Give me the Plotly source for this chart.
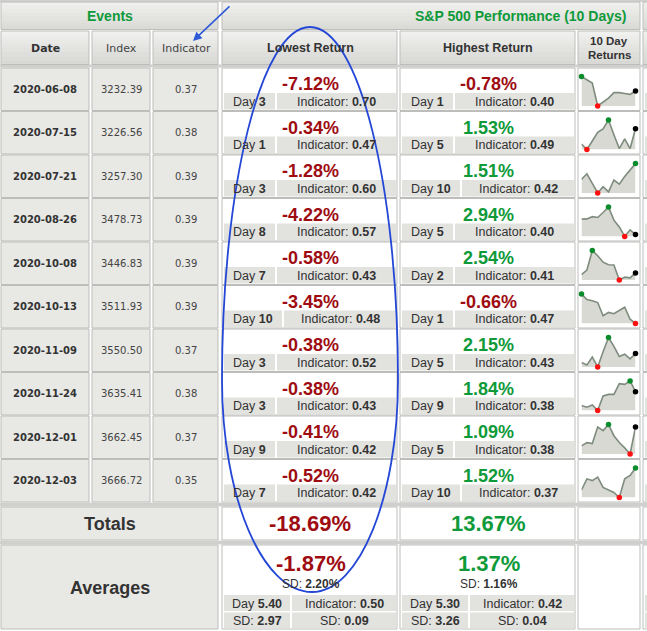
import plotly.graph_objects as go

W, H = 647, 631

# ---------------- data ----------------
dates = ["2020-06-08", "2020-07-15", "2020-07-21", "2020-08-26", "2020-10-08",
         "2020-10-13", "2020-11-09", "2020-11-24", "2020-12-01", "2020-12-03"]
index_vals = [3232.39, 3226.56, 3257.30, 3478.73, 3446.83, 3511.93, 3550.50, 3635.41, 3662.45, 3666.72]
indicator_vals = [0.37, 0.38, 0.39, 0.39, 0.39, 0.39, 0.37, 0.38, 0.37, 0.35]
low_ret = [-7.12, -0.34, -1.28, -4.22, -0.58, -3.45, -0.38, -0.38, -0.41, -0.52]
low_day = [3, 1, 3, 8, 7, 10, 3, 3, 9, 7]
low_ind = [0.70, 0.47, 0.60, 0.57, 0.43, 0.48, 0.52, 0.43, 0.42, 0.42]
high_ret = [-0.78, 1.53, 1.51, 2.94, 2.54, -0.66, 2.15, 1.84, 1.09, 1.52]
high_day = [1, 5, 10, 5, 2, 1, 5, 9, 5, 10]
high_ind = [0.40, 0.49, 0.42, 0.40, 0.41, 0.47, 0.43, 0.38, 0.38, 0.37]

# 10-day return paths (day 0 .. day 10), %
spark_days = list(range(11))
spark_1 = [0, -0.78, -1.6, -7.12, -6.1, -5.2, -3.9, -3.9, -4.1, -4.3, -3.5]
spark_2 = [0, -0.34, 0.2, 0.75, 0.97, 1.53, 0.6, -0.28, 0.33, -0.28, 0.98]
spark_3 = [0, 0.54, -0.37, -1.28, -0.69, -1.18, -0.05, -0.44, 0.28, 0.93, 1.51]
spark_4 = [0, 0.05, 0.6, 0.4, 1.6, 2.94, -0.25, -1.9, -4.22, -2.6, -3.75]
spark_5 = [0, 0.47, 2.54, 1.98, 1.3, 1.04, 1.0, -0.58, -0.28, -0.35, 0.17]
spark_6 = [0, -0.66, -0.8, -1.0, -2.55, -2.15, -2.3, -1.9, -1.55, -2.95, -3.45]
spark_7 = [0, -0.2, 0.47, -0.38, 0.93, 2.15, 1.39, 0.53, 0.72, 0.32, 0.78]
spark_8 = [0, -0.13, 0.03, -0.38, 0.71, 0.83, 0.83, 1.64, 1.59, 1.84, 1.04]
spark_9 = [0, 0.17, 0.12, 0.96, 0.78, 1.09, 0.52, 0.17, -0.1, -0.41, 0.96]
spark_10 = [0, 0.77, 0.65, 0.89, 0.18, 0.0, -0.17, -0.52, 0.77, 1.0, 1.52]
sparks = [spark_1, spark_2, spark_3, spark_4, spark_5, spark_6, spark_7, spark_8, spark_9, spark_10]

total_low, total_high = -18.69, 13.67
avg_low, avg_low_sd = -1.87, 2.20
avg_low_day, avg_low_ind, avg_low_day_sd, avg_low_ind_sd = 5.40, 0.50, 2.97, 0.09
avg_high, avg_high_sd = 1.37, 1.16
avg_high_day, avg_high_ind, avg_high_day_sd, avg_high_ind_sd = 5.30, 0.42, 3.26, 0.04

# ---------------- style ----------------
RED = "#9e0c12"
GREEN = "#0f9a3a"
DARK = "#333333"
CELL = "#e8e8e5"
SUB = "#e2e2df"
BORDER = "#bdbdbb"
ARIAL = "Liberation Sans, Arial, sans-serif"
TAHOMA = "DejaVu Sans, Verdana, sans-serif"

shapes = []
ann = []


def rect(x0, y0, x1, y1, fill, line=None, lw=1):
    shapes.append(dict(type="rect", xref="x", yref="y", x0=x0, y0=y0, x1=x1, y1=y1,
                       fillcolor=fill, layer="below",
                       line=dict(color=line if line else fill, width=lw if line else 0)))


def grad(x0, y0, x1, y1, c0, c1, n=8, line=BORDER):
    def hx(c):
        return [int(c[i:i + 2], 16) for i in (1, 3, 5)]
    a, b = hx(c0), hx(c1)
    h = (y1 - y0) / n
    for k in range(n):
        t = k / (n - 1)
        col = "#%02x%02x%02x" % tuple(int(a[j] + (b[j] - a[j]) * t) for j in range(3))
        rect(x0, y0 + k * h, x1, y0 + (k + 1) * h + 0.5, col)
    rect(x0, y0, x1, y1, "rgba(0,0,0,0)", line, 1)


def text(x, y, s, size, color=DARK, family=ARIAL, bold=False):
    ann.append(dict(x=x, y=y, xref="x", yref="y", text=("<b>%s</b>" % s) if bold else s,
                    showarrow=False, xanchor="center", yanchor="middle",
                    font=dict(size=size, color=color, family=family)))


def pct(v):
    return "%.2f%%" % v


# columns
C_DATE = (1, 89)
C_INDEX = (92, 150)
C_IND = (153, 218)
C_LOW = (222, 397)
C_HIGH = (400, 575)
C_SPARK = (578, 640)
C_EXTRA = (643, 700)

# background bands
rect(0, 0, W, H, "#ffffff")
rect(0, 0, W, 2, "#d0d0ce")
rect(0, 64.5, W, 67.5, "#cfcfcd")

# header rows
grad(C_DATE[0], 2, C_IND[1], 29.5, "#efefed", "#dadad7")
grad(C_LOW[0], 2, C_SPARK[1], 29.5, "#efefed", "#dadad7")
grad(C_EXTRA[0], 2, C_EXTRA[1], 29.5, "#efefed", "#dadad7")
text(110, 16, "Events", 14, GREEN, bold=True)
text(520, 16, "S&P 500 Performance (10 Days)", 14, GREEN, bold=True)

for c in (C_DATE, C_INDEX, C_IND, C_LOW, C_HIGH, C_SPARK, C_EXTRA):
    grad(c[0], 31, c[1], 64.5, "#f0f0ee", "#d8d8d5")
text(45, 48, "Date", 11, DARK, TAHOMA, bold=True)
text(121, 48, "Index", 11, "#444444", TAHOMA)
text(186, 48, "Indicator", 11, "#444444", TAHOMA)
text(310, 48, "Lowest Return", 12.5, DARK, bold=True)
text(488, 48, "Highest Return", 12.5, DARK, bold=True)
text(609, 41, "10 Day", 11.5, DARK, bold=True)
text(609, 55, "Returns", 11.5, DARK, bold=True)

RH = 43.5
TOP0 = 68


def ret_cell(c, top, val, day, ind, positive_green):
    rect(c[0], top, c[1], top + RH - 1, "#ffffff", BORDER, 1)
    col = GREEN if (positive_green and val > 0) else RED
    text((c[0] + c[1]) / 2 + 1, top + 16, pct(val), 18, col, bold=True)
    dw = 58 if day >= 10 else 51
    by0, by1 = top + 25, top + 41.5
    rect(c[0] + 2, by0, c[0] + 2 + dw, by1, SUB)
    rect(c[0] + 4 + dw, by0, c[1] - 1, by1, SUB)
    text(c[0] + 2 + dw / 2, (by0 + by1) / 2 + 0.5, "Day <b>%d</b>" % day, 12.5, DARK)
    text((c[0] + 4 + dw + c[1] - 1) / 2, (by0 + by1) / 2 + 0.5,
         "Indicator: <b>%.2f</b>" % ind, 12.5, DARK)


data_traces = []
axes = {}
for i in range(len(dates)):
    top = TOP0 + RH * i
    for c in (C_DATE, C_INDEX, C_IND):
        rect(c[0], top, c[1], top + RH - 1, CELL, BORDER, 1)
    cy = top + RH / 2 - 0.5
    text(45, cy, dates[i], 10, DARK, TAHOMA, bold=True)
    text(121, cy, "%.2f" % index_vals[i], 10, "#444444", TAHOMA)
    text(186, cy, "%.2f" % indicator_vals[i], 10, "#444444", TAHOMA)
    ret_cell(C_LOW, top, low_ret[i], low_day[i], low_ind[i], False)
    ret_cell(C_HIGH, top, high_ret[i], high_day[i], high_ind[i], True)
    rect(C_SPARK[0], top, C_SPARK[1], top + RH - 1, "#ffffff", BORDER, 1)
    rect(C_EXTRA[0], top, C_EXTRA[1], top + RH - 1, "#ffffff", BORDER, 1)
    rect(C_EXTRA[0] + 2, top + 25, C_EXTRA[1], top + 41.5, SUB)

    # sparkline
    k = i + 2
    vals = sparks[i]
    lo, hi = min(vals), max(vals)
    xa, ya = "x%d" % k, "y%d" % k
    data_traces.append(go.Scatter(x=spark_days, y=[lo] * len(spark_days), xaxis=xa, yaxis=ya,
                                  mode="lines", line=dict(width=0, color="rgba(0,0,0,0)"),
                                  hoverinfo="skip", showlegend=False))
    data_traces.append(go.Scatter(x=spark_days, y=vals, xaxis=xa, yaxis=ya, mode="lines",
                                  fill="tonexty", fillcolor="#d9d9d3",
                                  line=dict(color="#7e8c7e", width=1.6),
                                  showlegend=False, cliponaxis=False))
    imax, imin = vals.index(hi), vals.index(lo)
    mx = [spark_days[imax], spark_days[imin]]
    my = [hi, lo]
    mc = ["#0b8c2c", "#ff1010"]
    if len(vals) - 1 not in (imax, imin):
        mx.append(spark_days[-1])
        my.append(vals[-1])
        mc.append("#000000")
    data_traces.append(go.Scatter(x=mx, y=my, xaxis=xa, yaxis=ya, mode="markers",
                                  marker=dict(size=5.5, color=mc), showlegend=False,
                                  cliponaxis=False))
    yt, yb = top + 8.5, top + 38
    axes["xaxis%d" % k] = dict(domain=[581.5 / W, 635.5 / W], range=[0, 10], visible=False,
                               fixedrange=True, anchor=ya)
    axes["yaxis%d" % k] = dict(domain=[1 - yb / H, 1 - yt / H], range=[lo, hi], visible=False,
                               fixedrange=True, anchor=xa)

# totals / averages
end = TOP0 + RH * len(dates)
rect(0, end - 0.5, W, end + 3.5, "#cfcfcd")
t0, t1 = end + 4, end + 37
rect(C_DATE[0], t0, C_IND[1], t1, CELL, BORDER, 1)
for c in (C_LOW, C_HIGH, C_SPARK, C_EXTRA):
    rect(c[0], t0, c[1], t1, "#ffffff", BORDER, 1)
text(110, (t0 + t1) / 2, "Totals", 18, DARK, bold=True)
text(310, (t0 + t1) / 2, pct(total_low), 22, RED, bold=True)
text(488, (t0 + t1) / 2, pct(total_high), 22, GREEN, bold=True)

rect(0, t1 + 0.5, W, t1 + 4.5, "#cfcfcd")
a0, a1 = t1 + 5, 629
rect(C_DATE[0], a0, C_IND[1], a1, CELL, BORDER, 1)
for c in (C_LOW, C_HIGH, C_SPARK, C_EXTRA):
    rect(c[0], a0, c[1], a1, "#ffffff", BORDER, 1)
text(110, (a0 + a1) / 2 + 1, "Averages", 18, DARK, bold=True)


def avg_cell(c, val, sd, day, ind, day_sd, ind_sd, col):
    text((c[0] + c[1]) / 2 + 1, a0 + 18, pct(val), 22, col, bold=True)
    text((c[0] + c[1]) / 2 + 1, a0 + 39, "SD: <b>%.2f%%</b>" % sd, 12, DARK)
    dw = 66
    r1a, r1b = a0 + 50, a0 + 66
    r2a, r2b = a0 + 67.5, a1 - 1
    for (ya, yb, l, r) in ((r1a, r1b, "Day <b>%.2f</b>" % day, "Indicator: <b>%.2f</b>" % ind),
                           (r2a, r2b, "SD: <b>%.2f</b>" % day_sd, "SD: <b>%.2f</b>" % ind_sd)):
        rect(c[0] + 2, ya, c[0] + 2 + dw, yb, SUB)
        rect(c[0] + 4 + dw, ya, c[1] - 1, yb, SUB)
        text(c[0] + 2 + dw / 2, (ya + yb) / 2 + 0.5, l, 12.5, DARK)
        text((c[0] + 4 + dw + c[1] - 1) / 2, (ya + yb) / 2 + 0.5, r, 12.5, DARK)


avg_cell(C_LOW, avg_low, avg_low_sd, avg_low_day, avg_low_ind, avg_low_day_sd, avg_low_ind_sd, RED)
avg_cell(C_HIGH, avg_high, avg_high_sd, avg_high_day, avg_high_ind, avg_high_day_sd, avg_high_ind_sd, GREEN)
rect(C_EXTRA[0] + 2, a0 + 50, C_EXTRA[1], a0 + 66, SUB)
rect(C_EXTRA[0] + 2, a0 + 67.5, C_EXTRA[1], a1 - 1, SUB)

# hand-drawn blue annotation marks
k = 0.5523
cx_t, cy_t = 310, 27
cx_b, cy_b = 312, 592
lx, rx, my = 222, 398, 380
path = ("M %s,%s C %s,%s %s,%s %s,%s C %s,%s %s,%s %s,%s C %s,%s %s,%s %s,%s C %s,%s %s,%s %s,%s Z" % (
    cx_t, cy_t, cx_t + k * (rx - cx_t), cy_t, rx, my - k * (my - cy_t), rx, my,
    rx, my + k * (cy_b - my), cx_b + k * (rx - cx_b), cy_b, cx_b, cy_b,
    cx_b - k * (cx_b - lx), cy_b, lx, my + k * (cy_b - my), lx, my,
    lx, my - k * (my - cy_t), cx_t - k * (cx_t - lx), cy_t, cx_t, cy_t))
blue_shapes = [dict(type="path", xref="x", yref="y", path=path, layer="above",
                    line=dict(color="#2447d6", width=1.8), fillcolor="rgba(0,0,0,0)")]
ann.append(dict(x=193, y=41, ax=231, ay=5, xref="x", yref="y", axref="x", ayref="y",
                text="", showarrow=True, arrowhead=2, arrowsize=1.1, arrowwidth=1.6,
                arrowcolor="#2e5ad8"))

fig = go.Figure(data=data_traces)
fig.update_layout(
    width=W, height=H, margin=dict(l=0, r=0, t=0, b=0),
    paper_bgcolor="#ffffff", plot_bgcolor="rgba(0,0,0,0)",
    xaxis=dict(range=[0, W], visible=False, domain=[0, 1], fixedrange=True),
    yaxis=dict(range=[H, 0], visible=False, domain=[0, 1], fixedrange=True),
    shapes=shapes + blue_shapes, annotations=ann, showlegend=False,
    **axes,
)
fig.write_html("out.html",
               config={"displayModeBar": False},
               post_script="document.body.style.margin='0';document.body.style.overflow='hidden';")
